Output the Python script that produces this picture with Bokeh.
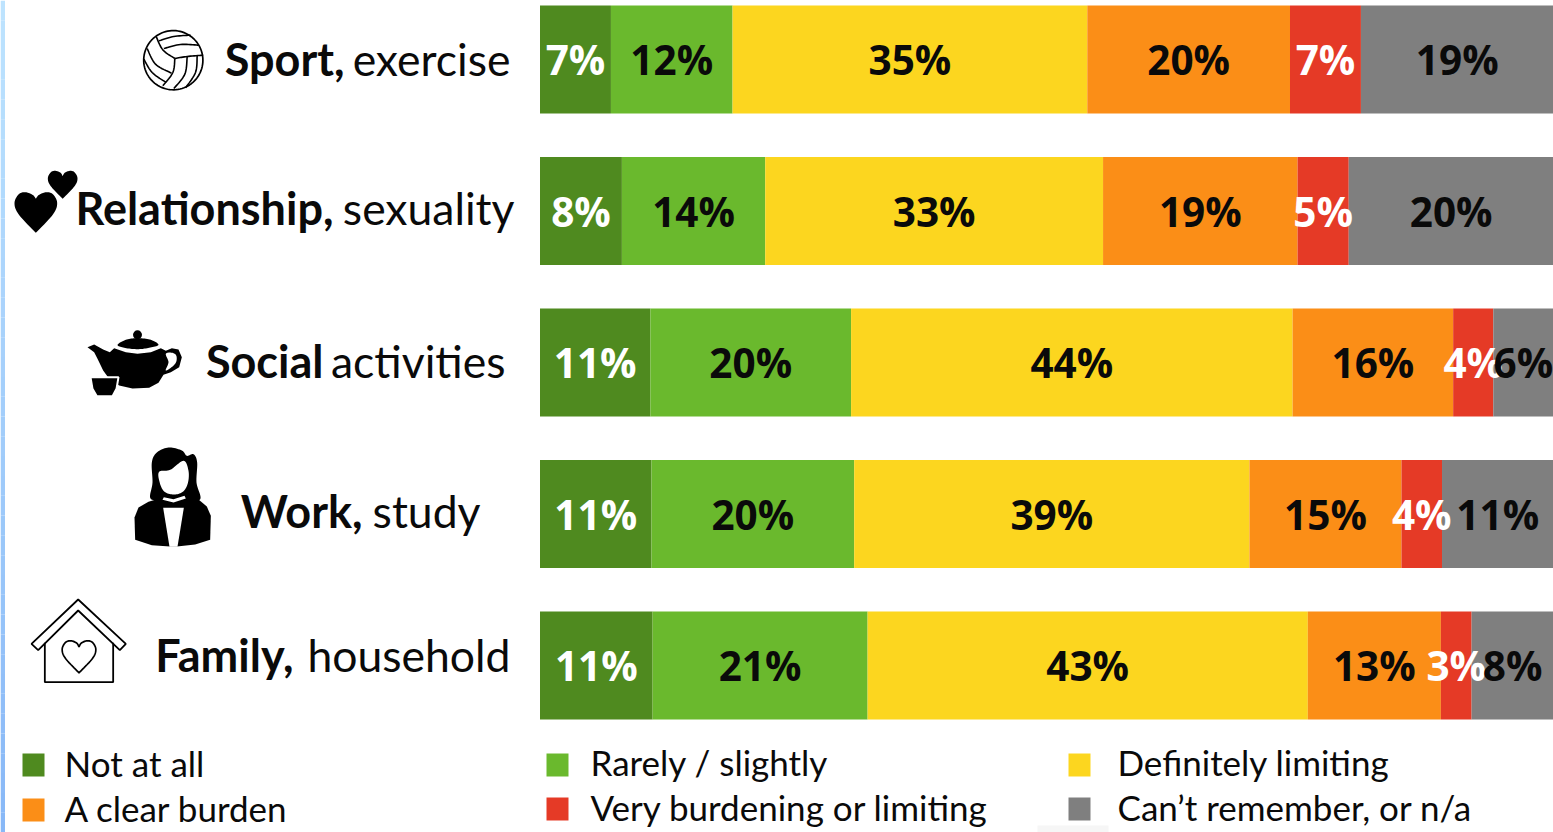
import numpy as np
from bokeh.core.properties import value
from bokeh.embed import file_html
from bokeh.models import ColumnDataSource, Range1d
from bokeh.plotting import figure
from bokeh.resources import INLINE

# Survey answers per life domain, top row first (percent)
activities_bold = ["Sport,", "Relationship,", "Social", "Work,", "Family,"]
activities_rest = ["exercise", "sexuality", "activities", "study", "household"]
not_at_all = [7, 8, 11, 11, 11]
rarely = [12, 14, 20, 20, 21]
definitely = [35, 33, 44, 39, 43]
clear_burden = [20, 19, 16, 15, 13]
very_burdening = [7, 5, 4, 4, 3]
cant_remember = [19, 20, 6, 11, 8]

series_names = ["Not at all", "Rarely / slightly", "Definitely limiting",
                "A clear burden", "Very burdening or limiting", "Can’t remember, or n/a"]
series_colors = ["#4f8a1f", "#6ab92d", "#fcd61f", "#fb8e17", "#e53a26", "#7f7f7f"]
label_colors = ["white", "#0a0a0a", "#0a0a0a", "#0a0a0a", "white", "#0a0a0a"]

W, H = 1553, 832
BAR_LEFT = 539.5
TEXT = "#0a0a0a"

p = figure(width=W, height=H, output_backend="svg", toolbar_location=None,
           x_range=Range1d(-BAR_LEFT / (W - BAR_LEFT) * 100, 100),
           y_range=Range1d((H - 59) / 151.5, -59 / 151.5),
           min_border=0, min_border_left=0, min_border_right=0,
           min_border_top=0, min_border_bottom=0, outline_line_color=None,
           background_fill_color="white", border_fill_color="white")
p.extra_x_ranges = {"px": Range1d(0, W)}
p.extra_y_ranges = {"px": Range1d(H, 0)}
p.axis.visible = False
p.grid.visible = False
PX = dict(x_range_name="px", y_range_name="px")

# Window edge strip running down the left side
edge = np.linspace(0, H, 43)
t = (edge[:-1] + edge[1:]) / 2 / H
edge_colors = ["#%02x%02x%02x" % (int(190 - 54 * s), int(228 - 44 * s), int(255 - 8 * s)) for s in t]
p.quad(left=0, right=4.5, top=edge[:-1], bottom=edge[1:], fill_color=edge_colors, line_color=None, **PX)
p.quad(left=1037, right=1108, top=825, bottom=832, fill_color="#f6f6f6", line_color=None, **PX)

# Full-width stacked bars: each row is shown as shares of its own total
table = np.array([not_at_all, rarely, definitely, clear_burden, very_burdening, cant_remember], dtype=float)
shares = table / table.sum(axis=0) * 100
rights = np.cumsum(shares, axis=0)
lefts = rights - shares
rows = np.arange(table.shape[1])
for k, color in enumerate(series_colors):
    src = ColumnDataSource(dict(y=rows, left=lefts[k], right=rights[k]))
    p.hbar(y="y", left="left", right="right", height=108 / 151.5, fill_color=color,
           line_color=None, source=src)
for k, color in enumerate(label_colors):
    src = ColumnDataSource(dict(y=rows + 0.002, mid=(lefts[k] + rights[k]) / 2,
                                label=[f"{int(v)}%" for v in table[k]]))
    p.text(x="mid", y="y", text="label", source=src, text_align="center", text_baseline="middle",
           text_color=color, text_font=value("Open Sans"), text_font_style="bold",
           text_font_size="40.5px")

# Row captions: bold lead word followed by a regular word
bold_x = [344, 333, 323, 362, 293]
rest_x = [510, 514, 505, 480, 510]
mid_y = [58, 207, 360, 510, 654]
p.text(x=bold_x, y=mid_y, text=activities_bold, text_align="right", text_baseline="middle",
       text_color=TEXT, text_font=value("Lato"), text_font_style="bold", text_font_size="45px", **PX)
p.text(x=rest_x, y=mid_y, text=activities_rest, text_align="right", text_baseline="middle",
       text_color=TEXT, text_font=value("Lato"), text_font_size="44.5px", **PX)

# Legend in two rows of three columns
swatch_x = [22, 546, 1068, 22, 546, 1068]
swatch_y = [753, 753, 753, 798, 797, 797]
label_x = [64, 590, 1117, 64, 590, 1117]
label_y = [762, 761, 761, 807, 806, 806]
p.quad(left=swatch_x, right=[x + 22 for x in swatch_x], top=swatch_y,
       bottom=[y + 23 for y in swatch_y], fill_color=series_colors, line_color=None, **PX)
p.text(x=label_x, y=label_y, text=series_names, text_baseline="middle", text_color=TEXT,
       text_font=value("Lato"), text_font_size="35px", **PX)


# Icon drawing helpers: outlines are given as control points in a local grid
def local(ox, oy, pts):
    return [(ox + a / 3, oy + b / 3) for a, b in pts]


def smooth(pts, closed=True, n=10):
    # Catmull-Rom through the listed points
    pts = np.array(pts, dtype=float)
    if closed:
        seq = np.vstack([pts[-1], pts, pts[0], pts[1]])
    else:
        seq = np.vstack([pts[0], pts, pts[-1]])
    out = []
    for i in range(1, len(seq) - 2):
        p0, p1, p2, p3 = seq[i - 1], seq[i], seq[i + 1], seq[i + 2]
        for u in np.linspace(0, 1, n, endpoint=False):
            out.append(0.5 * (2 * p1 + (p2 - p0) * u + (2 * p0 - 5 * p1 + 4 * p2 - p3) * u ** 2
                              + (3 * p1 - p0 - 3 * p2 + p3) * u ** 3))
    if not closed:
        out.append(seq[-2])
    return np.array(out)


def shape(ox, oy, pts, fill="black", line=None, width=1, curve=False):
    xy = np.array(local(ox, oy, pts))
    if curve:
        xy = smooth(xy)
    p.patch(xy[:, 0], xy[:, 1], fill_color=fill, line_color=line, line_width=width, **PX)


def stroke(ox, oy, pts, width=1.6, curve=True):
    xy = np.array(local(ox, oy, pts))
    if curve:
        xy = smooth(xy, closed=False)
    p.line(xy[:, 0], xy[:, 1], line_color="black", line_width=width, **PX)


def heart(ox, oy, l, r, top, dip, bottom, fill="black", line=None, width=1):
    c = (l + r) / 2
    w = (r - l) / 2
    h = bottom - top
    a = np.array(local(ox, oy, [(c, bottom), (l + w * 0.2, top + h * 0.55), (l, top + h * 0.27),
                                (l + w * 0.2, top + h * 0.05), (l + w * 0.52, top), (c - w * 0.14, top + h * 0.07),
                                (c, dip)]))
    left_side = smooth(a, closed=False)[:-1]
    right_side = np.column_stack([2 * (ox + c / 3) - left_side[::-1, 0], left_side[::-1, 1]])
    xy = np.vstack([left_side, right_side])
    p.patch(xy[:, 0], xy[:, 1], fill_color=fill, line_color=line, line_width=width, **PX)


# Volleyball
ang = np.linspace(0, 2 * np.pi, 90)
p.line(172.8 + 29.6 * np.cos(ang), 59.7 + 29.6 * np.sin(ang), line_color="black", line_width=1.7, **PX)
for seam in [
    [(62, 42), (82, 82), (118, 108)],
    [(70, 55), (115, 42), (165, 38)],
    [(85, 78), (135, 66), (190, 68)],
    [(118, 108), (155, 102), (203, 98)],
    [(118, 108), (112, 150), (82, 190)],
    [(155, 103), (148, 155), (115, 198)],
    [(185, 100), (180, 150), (150, 196)],
    [(35, 78), (60, 125), (108, 152)],
    [(25, 110), (50, 150), (92, 180)],
]:
    stroke(135, 22, seam)

# Two hearts
heart(8, 165, 18, 146, 80, 100, 202)
heart(8, 165, 118, 207, 16, 32, 100)

# Teapot with cup
shape(82, 325, [(15, 65), (35, 57), (62, 72), (82, 80), (95, 68), (130, 80), (165, 85), (205, 80), (235, 68),
                (250, 76), (268, 68), (288, 72), (298, 95), (290, 125), (265, 140), (243, 148), (228, 172),
                (200, 187), (150, 189), (110, 180), (80, 160), (62, 135), (45, 100), (35, 80)])
shape(82, 325, [(250, 85), (270, 82), (282, 92), (278, 115), (250, 135), (258, 110)], fill="white", curve=True)
shape(82, 325, [(105, 58), (130, 43), (165, 38), (205, 43), (228, 58), (200, 67), (165, 71), (125, 67)], curve=True)
p.circle(x=82 + 165 / 3, y=325 + 28 / 3, radius=4.5, fill_color="black", line_color=None, **PX)
shape(82, 325, [(24, 155), (108, 155), (102, 190), (90, 212), (43, 212), (30, 190)], line="white", width=2)

# Woman in a jacket
shape(128, 442, [(66, 168), (72, 120), (70, 60), (85, 30), (120, 15), (160, 24), (175, 40), (195, 35), (206, 60),
                 (204, 120), (215, 170), (170, 172), (105, 172)], curve=True)
shape(128, 442, [(92, 88), (125, 82), (165, 55), (180, 85), (178, 122), (163, 148), (135, 156), (107, 147), (93, 118)],
      fill="white", curve=True)
shape(128, 442, [(20, 292), (18, 225), (30, 195), (60, 178), (100, 166), (204, 166), (235, 192), (247, 220), (245, 292),
                 (200, 306), (145, 312), (125, 312), (70, 308)])
shape(128, 442, [(106, 164), (135, 170), (168, 160), (172, 168), (135, 180), (102, 172)], fill="white")
shape(128, 442, [(104, 196), (166, 196), (147, 313), (123, 313)], fill="white")

# House with a heart
shape(26, 594, [(155, 15), (298, 148), (280, 167), (155, 48), (35, 167), (15, 148)], fill="white", line="black", width=1.8)
stroke(26, 594, [(55, 145), (55, 263), (260, 263), (260, 145)], width=1.8, curve=False)
heart(26, 594, 107, 208, 139, 157, 235, fill="white", line="black", width=1.7)

open("out.html", "w").write(file_html(p, INLINE))
